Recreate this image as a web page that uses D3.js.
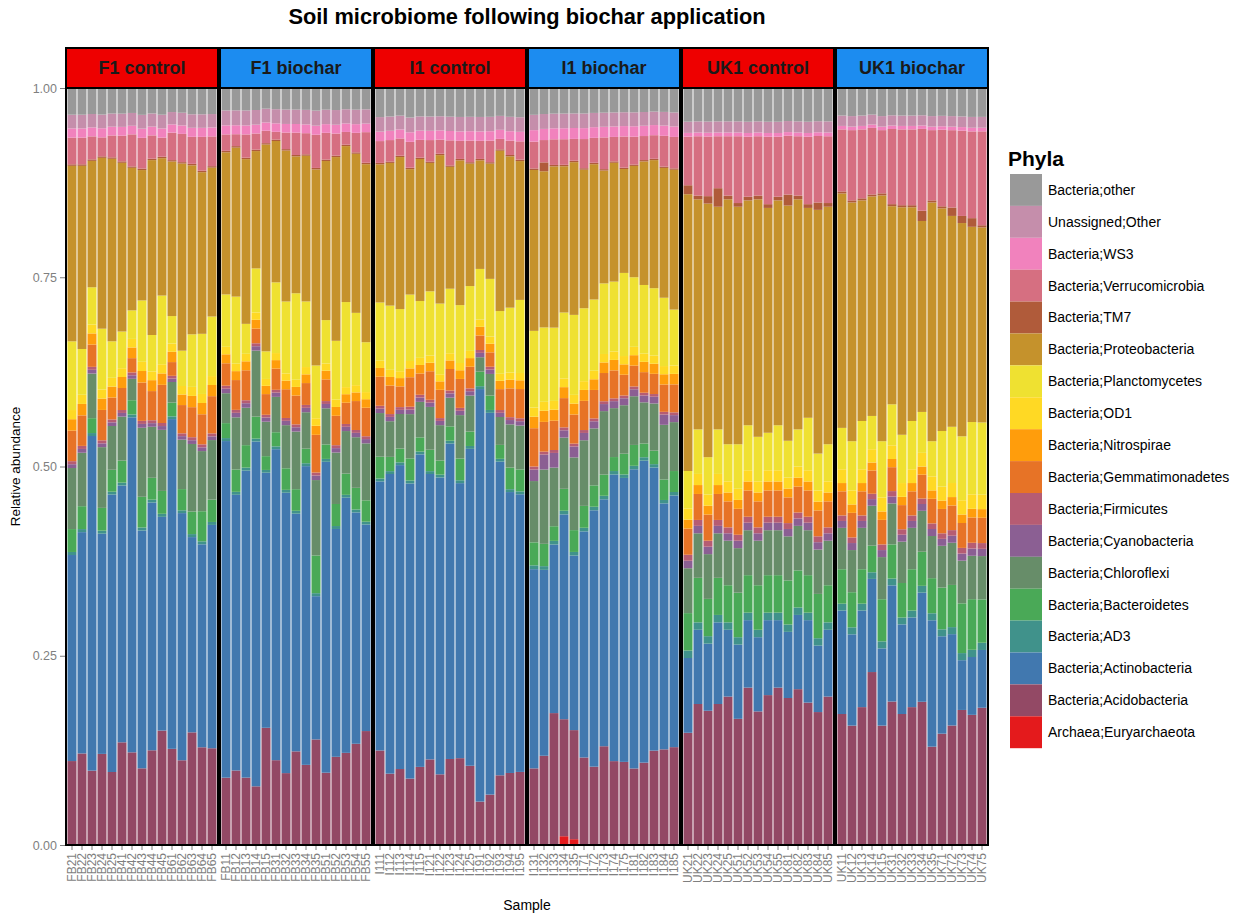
<!DOCTYPE html>
<html>
<head>
<meta charset="utf-8">
<script src="https://cdn.jsdelivr.net/npm/d3@7"></script>
<style>
  body { margin: 0; background: #fff; }
  text { font-family: "Liberation Sans", Arial, sans-serif; }
</style>
</head>
<body>
<svg id="chart" width="1240" height="923"></svg>
<script>
// Phyla in stacking order, bottom to top
const phyla = [
  "Archaea;Euryarchaeota", "Bacteria;Acidobacteria", "Bacteria;Actinobacteria", "Bacteria;AD3",
  "Bacteria;Bacteroidetes", "Bacteria;Chloroflexi", "Bacteria;Cyanobacteria", "Bacteria;Firmicutes",
  "Bacteria;Gemmatimonadetes", "Bacteria;Nitrospirae", "Bacteria;OD1", "Bacteria;Planctomycetes",
  "Bacteria;Proteobacteria", "Bacteria;TM7", "Bacteria;Verrucomicrobia", "Bacteria;WS3",
  "Unassigned;Other", "Bacteria;other"
];

const groups = ["F1 control", "F1 biochar", "I1 control", "I1 biochar", "UK1 control", "UK1 biochar"];
const groupTreatment = ["control", "biochar", "control", "biochar", "control", "biochar"];

const samplesF1control = ["FB21","FB22","FB23","FB24","FB25","FB41","FB42","FB43","FB44","FB45","FB61","FB62","FB63","FB64","FB65"];
const samplesF1biochar = ["FB11","FB12","FB13","FB14","FB15","FB31","FB32","FB33","FB34","FB35","FB51","FB52","FB53","FB54","FB55"];
const samplesI1control = ["I111","I112","I113","I114","I115","I121","I122","I123","I124","I125","I191","I192","I193","I194","I195"];
const samplesI1biochar = ["I131","I132","I133","I134","I135","I171","I172","I173","I174","I175","I181","I182","I183","I184","I185"];
const samplesUK1control = ["UK21","UK22","UK23","UK24","UK25","UK51","UK52","UK53","UK54","UK55","UK81","UK82","UK83","UK84","UK85"];
const samplesUK1biochar = ["UK11","UK12","UK13","UK14","UK15","UK31","UK32","UK33","UK34","UK35","UK71","UK72","UK73","UK74","UK75"];

// Relative abundance per phylum, samples in the order listed above (F1c, F1b, I1c, I1b, UK1c, UK1b)
const euryarchaeota = [
  0,0,0,0,0,0,0,0,0,0,0,0,0,0,0,
  0,0,0,0,0,0,0,0,0,0,0,0,0,0,0,
  0,0,0,0,0,0,0,0,0,0,0,0,0,0,0,
  0,0,0,.012,.008,0,0,0,0,0,0,0,0,0,0,
  0,0,0,0,0,0,0,0,0,0,0,0,0,0,0,
  0,0,0,0,0,0,0,0,0,0,0,0,0,0,0];
const acidobacteria = [
  .11,.12,.10,.12,.10,.14,.13,.10,.13,.15,.14,.12,.15,.13,.13,
  .09,.10,.09,.08,.17,.12,.10,.13,.11,.14,.10,.12,.13,.14,.16,
  .13,.10,.11,.09,.11,.12,.10,.12,.12,.11,.06,.07,.10,.10,.10,
  .10,.12,.18,.16,.15,.12,.11,.14,.12,.12,.11,.12,.14,.14,.14,
  .15,.19,.18,.19,.20,.17,.21,.18,.20,.21,.20,.21,.19,.18,.20,
  .19,.17,.20,.26,.17,.21,.19,.20,.21,.14,.16,.17,.19,.18,.19];
const actinobacteria = [
  .27,.29,.45,.29,.38,.35,.47,.31,.34,.28,.48,.35,.26,.27,.30,
  .45,.37,.41,.47,.37,.44,.39,.33,.41,.19,.43,.31,.36,.32,.29,
  .37,.42,.44,.40,.44,.40,.42,.44,.38,.44,.57,.53,.45,.39,.38,
  .26,.25,.23,.28,.24,.31,.36,.35,.41,.41,.43,.44,.42,.36,.36,
  .10,.10,.09,.11,.09,.10,.09,.10,.10,.09,.09,.10,.11,.09,.09,
  .15,.13,.14,.14,.11,.17,.13,.13,.16,.18,.14,.13,.07,.08,.08];
const ad3 = [
  .004,.004,.004,.004,.004,.004,.004,.004,.004,.004,.004,.004,.004,.004,.004,
  .004,.004,.004,.004,.004,.004,.004,.004,.004,.004,.004,.004,.004,.004,.004,
  .004,.004,.004,.004,.004,.004,.004,.004,.004,.004,.004,.004,.004,.004,.004,
  .005,.005,.005,.005,.005,.005,.005,.005,.005,.005,.005,.005,.005,.005,.005,
  .010,.010,.010,.010,.010,.010,.010,.010,.010,.010,.010,.010,.010,.010,.010,
  .010,.010,.010,.010,.010,.010,.010,.010,.010,.010,.010,.010,.010,.010,.010];
const bacteroidetes = [
  .03,.03,.02,.03,.03,.03,.02,.04,.03,.03,.02,.03,.03,.04,.03,
  .02,.03,.03,.03,.02,.02,.03,.03,.02,.05,.02,.03,.03,.03,.03,
  .03,.02,.02,.03,.02,.03,.02,.02,.03,.02,.02,.02,.02,.03,.03,
  .03,.03,.02,.03,.03,.03,.03,.03,.02,.03,.03,.02,.02,.03,.03,
  .05,.06,.05,.05,.05,.06,.05,.06,.05,.05,.06,.05,.05,.06,.05,
  .05,.05,.05,.04,.06,.05,.05,.06,.05,.05,.06,.06,.07,.07,.06];
const chloroflexi = [
  .08,.07,.06,.08,.06,.06,.03,.09,.07,.08,.03,.07,.09,.08,.08,
  .04,.07,.05,.09,.05,.05,.06,.08,.05,.10,.05,.07,.06,.07,.08,
  .06,.05,.05,.06,.05,.06,.05,.04,.06,.05,.02,.03,.04,.06,.06,
  .08,.10,.08,.07,.10,.09,.08,.09,.07,.07,.07,.06,.07,.08,.07,
  .06,.06,.06,.06,.06,.06,.06,.06,.06,.06,.06,.06,.06,.06,.06,
  .06,.06,.06,.06,.06,.06,.06,.06,.06,.06,.06,.06,.06,.06,.06];
const cyanobacteria = [
  .005,.005,.005,.005,.005,.005,.005,.005,.005,.005,.005,.005,.005,.005,.005,
  .006,.006,.006,.006,.006,.006,.006,.006,.006,.006,.006,.006,.006,.006,.006,
  .006,.006,.006,.006,.006,.006,.006,.006,.006,.006,.006,.006,.006,.006,.006,
  .015,.020,.020,.010,.015,.010,.010,.010,.010,.010,.010,.010,.010,.015,.010,
  .010,.010,.010,.010,.010,.010,.010,.010,.010,.010,.010,.010,.010,.010,.010,
  .010,.010,.010,.010,.010,.010,.010,.010,.010,.010,.010,.010,.010,.010,.010];
const firmicutes = [
  .004,.004,.004,.004,.004,.004,.004,.004,.004,.004,.004,.004,.004,.004,.004,
  .004,.004,.004,.004,.004,.004,.004,.004,.004,.004,.004,.004,.004,.004,.004,
  .004,.004,.004,.004,.004,.004,.004,.004,.004,.004,.004,.004,.004,.004,.004,
  .004,.004,.004,.004,.004,.004,.004,.004,.004,.004,.004,.004,.004,.004,.004,
  .008,.008,.008,.008,.008,.008,.008,.008,.008,.008,.008,.008,.008,.008,.008,
  .008,.008,.008,.008,.008,.008,.008,.008,.008,.008,.008,.008,.008,.008,.008];
const gemmatimonadetes = [
  .04,.04,.03,.04,.03,.03,.02,.05,.04,.05,.02,.04,.04,.04,.05,
  .03,.04,.04,.02,.03,.03,.04,.04,.03,.05,.03,.04,.03,.04,.04,
  .04,.04,.03,.04,.03,.04,.04,.03,.04,.03,.02,.02,.03,.04,.04,
  .05,.04,.04,.04,.04,.04,.04,.04,.04,.03,.03,.03,.03,.04,.04,
  .035,.035,.035,.035,.035,.035,.035,.035,.035,.035,.035,.035,.035,.035,.035,
  .035,.035,.035,.035,.035,.035,.035,.035,.035,.035,.035,.035,.035,.035,.035];
const nitrospirae = [
  .015,.015,.015,.015,.015,.015,.015,.015,.015,.015,.015,.015,.015,.015,.015,
  .012,.012,.012,.012,.012,.012,.012,.012,.012,.012,.012,.012,.012,.012,.012,
  .012,.012,.012,.012,.012,.012,.012,.012,.012,.012,.012,.012,.012,.012,.012,
  .015,.015,.015,.015,.015,.015,.015,.015,.015,.015,.015,.015,.015,.015,.015,
  .012,.012,.012,.012,.012,.012,.012,.012,.012,.012,.012,.012,.012,.012,.012,
  .012,.012,.012,.012,.012,.012,.012,.012,.012,.012,.012,.012,.012,.012,.012];
const od1 = [
  .012,.012,.012,.012,.012,.012,.012,.012,.012,.012,.012,.012,.012,.012,.012,
  .010,.010,.010,.010,.010,.010,.010,.010,.010,.010,.010,.010,.010,.010,.010,
  .010,.010,.010,.010,.010,.010,.010,.010,.010,.010,.010,.010,.010,.010,.010,
  .012,.012,.012,.012,.012,.012,.012,.012,.012,.012,.012,.012,.012,.012,.012,
  .015,.015,.015,.015,.015,.015,.015,.015,.015,.015,.015,.015,.015,.015,.015,
  .020,.020,.020,.020,.020,.020,.020,.020,.020,.020,.020,.020,.020,.020,.020];
const planctomycetes = [
  .09,.06,.05,.08,.05,.05,.04,.08,.05,.09,.04,.05,.07,.08,.08,
  .07,.09,.04,.06,.04,.10,.10,.12,.09,.07,.06,.08,.12,.10,.07,
  .08,.09,.09,.09,.08,.09,.10,.09,.08,.09,.07,.08,.09,.09,.10,
  .10,.10,.10,.09,.11,.10,.10,.10,.10,.12,.10,.10,.10,.10,.08,
  .05,.06,.05,.06,.05,.06,.06,.06,.05,.06,.05,.05,.07,.05,.05,
  .06,.07,.07,.05,.08,.06,.07,.07,.06,.05,.08,.08,.09,.10,.10];
const proteobacteria = [
  .23,.24,.17,.225,.25,.23,.20,.17,.24,.18,.225,.265,.225,.215,.20,
  .19,.20,.22,.16,.30,.20,.21,.19,.20,.26,.22,.25,.22,.22,.25,
  .19,.20,.22,.17,.20,.18,.21,.17,.20,.17,.15,.16,.23,.21,.19,
  .21,.21,.22,.20,.21,.19,.19,.16,.17,.15,.16,.18,.19,.19,.20,
  .37,.31,.34,.30,.33,.32,.30,.32,.30,.30,.32,.31,.28,.33,.32,
  .34,.34,.32,.33,.35,.29,.33,.31,.28,.34,.32,.30,.30,.27,.27];
const tm7 = [
  .002,.002,.002,.002,.002,.002,.002,.002,.002,.002,.002,.002,.002,.002,.002,
  .002,.002,.002,.002,.002,.002,.002,.002,.002,.002,.002,.002,.002,.002,.002,
  .002,.002,.002,.002,.002,.002,.002,.002,.002,.002,.002,.002,.002,.002,.002,
  .002,.012,.002,.002,.002,.002,.002,.002,.002,.002,.002,.002,.002,.002,.002,
  .012,.005,.010,.025,.005,.005,.005,.005,.005,.005,.015,.005,.005,.010,.005,
  .003,.003,.003,.003,.003,.003,.003,.003,.015,.003,.003,.012,.010,.012,.003];
const verrucomicrobia = [
  .035,.035,.031,.025,.030,.035,.045,.040,.032,.025,.040,.040,.036,.045,.040,
  .022,.016,.031,.022,.018,.011,.023,.031,.029,.044,.037,.030,.018,.027,.043,
  .030,.030,.025,.035,.025,.030,.020,.035,.025,.030,.025,.030,.015,.020,.025,
  .035,.030,.035,.035,.030,.040,.035,.045,.035,.045,.040,.035,.035,.045,.045,
  .065,.080,.080,.070,.080,.090,.080,.080,.090,.080,.080,.080,.090,.090,.090,
  .090,.100,.100,.100,.090,.110,.110,.110,.120,.100,.110,.110,.120,.120,.130];
const ws3 = [
  .012,.012,.012,.012,.012,.012,.012,.012,.012,.012,.012,.012,.012,.012,.012,
  .012,.012,.012,.012,.012,.012,.012,.012,.012,.012,.012,.012,.012,.012,.012,
  .013,.013,.013,.013,.013,.013,.013,.013,.013,.013,.013,.013,.013,.013,.013,
  .015,.015,.015,.015,.015,.015,.015,.015,.015,.015,.015,.015,.015,.015,.015,
  .005,.005,.005,.005,.005,.005,.005,.005,.005,.005,.005,.005,.005,.005,.005,
  .005,.005,.005,.005,.005,.005,.005,.005,.005,.005,.005,.005,.005,.005,.005];
const unassignedOther = [
  .018,.018,.018,.018,.018,.018,.018,.018,.018,.018,.018,.018,.018,.018,.018,
  .020,.020,.020,.020,.020,.020,.020,.020,.020,.020,.020,.020,.020,.020,.020,
  .020,.020,.020,.020,.020,.020,.020,.020,.020,.020,.020,.020,.020,.020,.020,
  .020,.020,.020,.020,.020,.020,.020,.020,.020,.020,.020,.020,.020,.020,.020,
  .015,.015,.015,.015,.015,.015,.015,.015,.015,.015,.015,.015,.015,.015,.015,
  .015,.015,.015,.015,.015,.015,.015,.015,.015,.015,.015,.015,.015,.015,.015];
const bacteriaOther = [
  .035,.035,.035,.035,.035,.035,.035,.035,.035,.035,.035,.035,.035,.035,.035,
  .030,.030,.030,.030,.030,.030,.030,.030,.030,.030,.030,.030,.030,.030,.030,
  .040,.040,.040,.040,.040,.040,.040,.040,.040,.040,.040,.040,.040,.040,.040,
  .035,.035,.035,.035,.035,.035,.035,.035,.035,.035,.035,.035,.035,.035,.035,
  .045,.045,.045,.045,.045,.045,.045,.045,.045,.045,.045,.045,.045,.045,.045,
  .040,.040,.040,.040,.040,.040,.040,.040,.040,.040,.040,.040,.040,.040,.040];

const yTicks = [0, 0.25, 0.5, 0.75, 1];

// ---------------------------------------------------------------------------
const seriesByPhylum = [
  euryarchaeota, acidobacteria, actinobacteria, ad3, bacteroidetes, chloroflexi,
  cyanobacteria, firmicutes, gemmatimonadetes, nitrospirae, od1, planctomycetes,
  proteobacteria, tm7, verrucomicrobia, ws3, unassignedOther, bacteriaOther
];
const samplesByGroup = [samplesF1control, samplesF1biochar, samplesI1control,
                        samplesI1biochar, samplesUK1control, samplesUK1biochar];

// one row per sample, relative abundance per phylum
const rows = [];
let idx = 0;
samplesByGroup.forEach((list, g) => {
  list.forEach(s => {
    const r = { sample: s, group: groups[g] };
    phyla.forEach((p, k) => { r[p] = seriesByPhylum[k][idx]; });
    rows.push(r);
    idx++;
  });
});

// colour ramp through the Set1 palette, one colour per phylum
const ramp = d3.piecewise(d3.interpolateRgb, d3.schemeSet1);
const color = d3.scaleOrdinal()
  .domain(phyla)
  .range(phyla.map((p, i) => ramp(i / (phyla.length - 1))));

const stack = d3.stack().keys(phyla).offset(d3.stackOffsetExpand);

const svg = d3.select("#chart");

const panelLeft = 66, panelWidth = 152, panelGap = 2;
const panelTop = 88, panelBottom = 845;
const stripTop = 48;
const stripFill = { control: "#ee0000", biochar: "#1c8cf0" };
const axisGrey = "#7f7f7f";

const y = d3.scaleLinear().domain([0, 1]).range([panelBottom, panelTop]);

// title
svg.append("text")
  .attr("x", 527).attr("y", 24)
  .attr("text-anchor", "middle")
  .style("font-size", "21.8px").style("font-weight", "bold")
  .text("Soil microbiome following biochar application");

groups.forEach((gName, g) => {
  const x0 = panelLeft + g * (panelWidth + panelGap);
  const gRows = rows.filter(r => r.group === gName);
  const x = d3.scaleBand()
    .domain(samplesByGroup[g])
    .range([x0, x0 + panelWidth])
    .paddingInner(0.1)
    .paddingOuter(0.15);

  const panel = svg.append("g").attr("class", "panel");

  panel.append("rect")
    .attr("x", x0).attr("y", panelTop)
    .attr("width", panelWidth).attr("height", panelBottom - panelTop)
    .attr("fill", "#ffffff");

  const layers = stack(gRows);
  panel.selectAll("g.layer")
    .data(layers)
    .join("g")
    .attr("class", "layer")
    .attr("fill", d => color(d.key))
    .selectAll("rect")
    .data(d => d)
    .join("rect")
    .attr("x", d => x(d.data.sample))
    .attr("width", x.bandwidth())
    .attr("y", d => y(d[1]))
    .attr("height", d => Math.max(0, y(d[0]) - y(d[1])));

  panel.append("rect")
    .attr("x", x0).attr("y", panelTop)
    .attr("width", panelWidth).attr("height", panelBottom - panelTop)
    .attr("fill", "none").attr("stroke", "#000").attr("stroke-width", 2);

  // facet strip
  panel.append("rect")
    .attr("x", x0).attr("y", stripTop)
    .attr("width", panelWidth).attr("height", panelTop - stripTop)
    .attr("fill", stripFill[groupTreatment[g]])
    .attr("stroke", "#000").attr("stroke-width", 2);
  panel.append("text")
    .attr("x", x0 + panelWidth / 2).attr("y", (stripTop + panelTop) / 2)
    .attr("dy", "0.36em")
    .attr("text-anchor", "middle")
    .style("font-size", "18px").style("font-weight", "bold")
    .attr("fill", "#1a1a1a")
    .text(gName);

  // x axis with rotated sample labels
  const xAxis = svg.append("g")
    .attr("transform", `translate(0,${panelBottom + 1})`)
    .call(d3.axisBottom(x).tickSize(4).tickSizeOuter(0));
  xAxis.select(".domain").remove();
  xAxis.selectAll("line").attr("stroke", axisGrey);
  xAxis.selectAll("text")
    .attr("transform", "rotate(-90)")
    .attr("x", -7).attr("y", 0).attr("dy", "0.35em")
    .style("text-anchor", "end")
    .style("font-size", "12px")
    .attr("fill", axisGrey);
});

// y axis
const yAxis = svg.append("g")
  .attr("transform", `translate(${panelLeft - 1},0)`)
  .call(d3.axisLeft(y).tickValues(yTicks).tickFormat(d3.format(".2f")).tickSize(5));
yAxis.select(".domain").remove();
yAxis.selectAll("line").attr("stroke", axisGrey);
yAxis.selectAll("text").style("font-size", "12.5px").attr("fill", axisGrey).attr("x", -8);

// axis titles
svg.append("text")
  .attr("x", 527).attr("y", 910)
  .attr("text-anchor", "middle")
  .style("font-size", "14px")
  .text("Sample");
svg.append("text")
  .attr("transform", `translate(20,${(panelTop + panelBottom) / 2}) rotate(-90)`)
  .attr("text-anchor", "middle")
  .style("font-size", "13.5px")
  .text("Relative abundance");

// legend, top entry is the top of the stack
const legend = svg.append("g").attr("transform", "translate(1008,0)");
legend.append("text")
  .attr("x", 0).attr("y", 166)
  .style("font-size", "21px").style("font-weight", "bold")
  .text("Phyla");
const keyH = 31.9, keyTop = 174;
const legendOrder = phyla.slice().reverse();
const item = legend.selectAll("g.item")
  .data(legendOrder)
  .join("g")
  .attr("class", "item")
  .attr("transform", (d, i) => `translate(2,${keyTop + i * keyH})`);
item.append("rect")
  .attr("width", 32).attr("height", keyH)
  .attr("fill", d => color(d));
item.append("text")
  .attr("x", 38).attr("y", keyH / 2).attr("dy", "0.35em")
  .style("font-size", "14px")
  .text(d => d);
</script>
</body>
</html>
